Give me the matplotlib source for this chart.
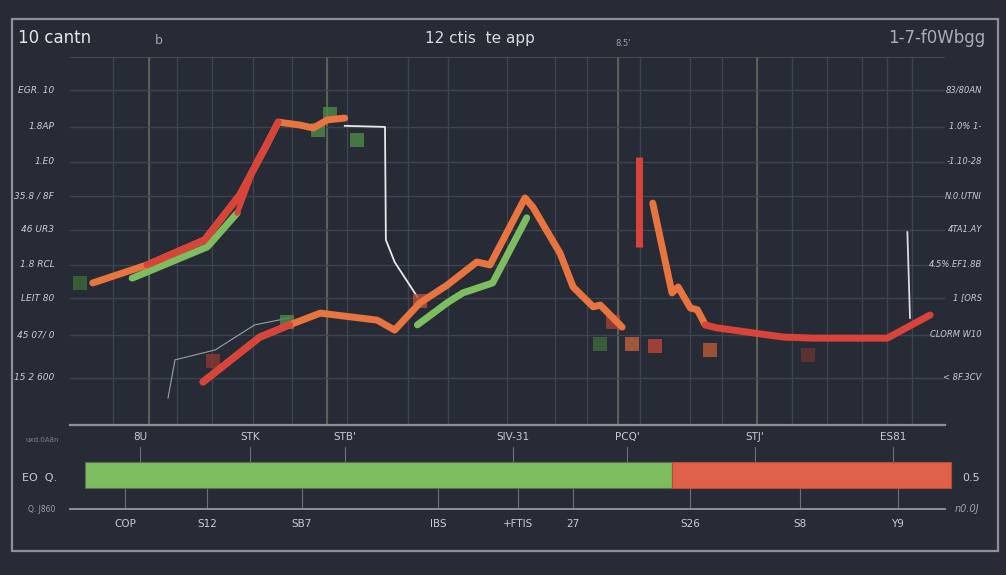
import matplotlib
matplotlib.use("Agg")
import matplotlib.pyplot as plt
from matplotlib.patches import Rectangle

W, H = 1006, 575
BG = "#262b36"
ORANGE = "#e8743f"
RED = "#d9443a"
GREEN = "#7dbd5f"
GRID = "#3d4350"
TXT = "#c9ccd2"

# ---------------- data (x: 0-100 time index, y: 0-100 value) ----------------
upper_x = [2.6, 8.8, 15.4, 19.4, 22.3, 23.8, 26.3, 27.8, 29.4, 31.4]
upper_y = [38.6, 43.5, 50.3, 62.5, 75.3, 82.3, 81.5, 80.7, 82.9, 83.4]
upper_red_x = [8.8, 15.4, 19.4, 22.3, 23.8]
upper_red_y = [43.5, 50.3, 62.5, 75.3, 82.3]
upper_red2_x = [19.1, 21.4, 23.8]
upper_red2_y = [57.6, 72.0, 82.3]
green1_x = [7.1, 15.7, 19.1]
green1_y = [39.9, 48.4, 57.6]

mid_x = [15.2, 21.7, 25.1, 28.6, 35.1, 37.1, 40.0, 43.1, 46.5, 48.0, 52.0, 52.9,
         56.0, 57.5, 59.8, 60.6, 63.1]
mid_y = [11.7, 23.9, 27.2, 30.4, 28.5, 25.8, 33.2, 38.0, 44.3, 43.5, 61.7, 59.2,
         46.7, 37.5, 32.1, 32.6, 26.6]
mid_red_x = [15.2, 21.7, 25.1]
mid_red_y = [11.7, 23.9, 27.2]
green2_x = [39.7, 43.1, 44.9, 48.3, 52.2]
green2_y = [27.2, 33.2, 35.9, 38.6, 56.3]

right_x = [66.6, 68.8, 69.5, 70.9, 71.7, 72.6]
right_y = [60.3, 35.9, 37.5, 31.8, 31.3, 27.2]
right_red_x = [72.6, 73.9, 81.5, 84.9, 93.4, 98.3]
right_red_y = [27.2, 26.4, 23.9, 23.6, 23.6, 29.9]

spike_x = [65.0, 65.0]
spike_y = [72.8, 48.4]

white1_x = [31.4, 36.0, 36.1, 37.1, 39.7]
white1_y = [81.3, 81.0, 50.3, 44.3, 34.8]
white2_x = [95.7, 96.0]
white2_y = [52.4, 29.1]
gray_x = [11.2, 12.0, 16.6, 21.1, 25.1]
gray_y = [7.3, 17.7, 20.4, 27.2, 29.1]

sq_x = [1.1, 16.3, 28.3, 32.8, 29.7, 24.8, 60.6, 64.2, 66.9, 73.1, 84.3, 40.0, 62.1]
sq_y = [38.6, 17.4, 80.2, 77.4, 84.5, 28.0, 22.0, 22.0, 21.5, 20.4, 19.0, 33.7, 28.0]
sq_c = ["#3f6b3c", "#8a3a33", "#4f8a48", "#4f8a48", "#4f8a48", "#4f8a48", "#3f6b3c",
        "#c0623a", "#c0453a", "#b85d38", "#6a3530", "#b5503a", "#a04235"]

grid_vx = [4.9, 9.0, 12.2, 16.2, 20.9, 25.4, 29.4, 31.7, 38.6, 43.2, 49.9, 55.4,
           59.1, 62.6, 65.1, 70.9, 74.5, 78.5, 82.5, 86.5, 90.5, 93.4, 96.2]
bright_vx = [9.0, 29.4, 62.6, 78.5]
grid_hy = [91.0, 81.0, 71.5, 62.2, 53.0, 43.5, 34.5, 24.5, 12.8]

left_labels = ["EGR. 10", "1.8AP", "1.E0", "35.8 / 8F", "46 UR3", "1.8 RCL",
               "LEIT 80", "45 07/ 0", "15 2 600"]
right_labels = ["83/80AN", "1.0% 1-", "-1.10-28", "N.0.UTNI", "4TA1.AY",
                "4.5%.EF1.8B", "1 [ORS", "CLORM W10", "< 8F.3CV"]

bar_start = 1.7
bar_values = [67.1, 31.9]
bar_colors = [GREEN, "#e0614a"]
top_tick_x = [8.0, 20.6, 31.4, 50.6, 63.7, 78.3, 94.1]
top_tick_labels = ["8U", "STK", "STB'", "SIV-31", "PCQ'", "STJ'", "ES81"]
bot_tick_x = [6.3, 15.7, 26.5, 42.1, 51.2, 57.5, 70.9, 83.4, 94.6]
bot_tick_labels = ["COP", "S12", "SB7", "IBS", "+FTIS", "27", "S26", "S8", "Y9"]

# ---------------- figure ----------------
fig = plt.figure(figsize=(W / 100, H / 100), dpi=100, facecolor=BG)


def fx(px):
    return px / W


def fy(py):
    return 1 - py / H


# outer frame
fig.patches.append(Rectangle((fx(12), fy(551)), fx(998) - fx(12), fy(19) - fy(551),
                             transform=fig.transFigure, fill=False,
                             edgecolor="#8c9099", lw=1.6))

# titles
fig.text(fx(18), fy(38), "10 cantn", color="#e4e6ea", fontsize=12, va="center",
         ha="left")
fig.text(fx(480), fy(38), "12 ctis  te app", color="#d9dbe0", fontsize=11,
         va="center", ha="center")
fig.text(fx(985), fy(38), "1-7-f0Wbgg", color="#a9adb5", fontsize=12, va="center",
         ha="right")
fig.text(fx(155), fy(40), "b", color="#9da1a9", fontsize=9, va="center")
fig.text(fx(615), fy(43), "8.5'", color="#9da1a9", fontsize=6, va="center")

# main axes
ax = fig.add_axes([fx(70), fy(425), fx(945) - fx(70), fy(57) - fy(425)])
ax.set_facecolor(BG)
ax.set_xlim(0, 100)
ax.set_ylim(0, 100)
for s in ["top", "left", "right"]:
    ax.spines[s].set_visible(False)
ax.spines["bottom"].set_color("#8c9099")
ax.spines["bottom"].set_linewidth(1.6)
ax.set_xticks([])
ax.set_yticks([])

for gx in grid_vx:
    ax.axvline(gx, color=GRID, lw=1.0, zorder=0)
for gx in bright_vx:
    ax.axvline(gx, color="#636a58", lw=1.2, zorder=0)
for gy in grid_hy:
    ax.axhline(gy, color=GRID, lw=1.0, zorder=0)
ax.axhline(100, color="#4a505c", lw=1.2, zorder=0)

# thin lines
ax.plot(gray_x, gray_y, color="#9aa0a8", lw=0.8, zorder=2)
ax.plot(white1_x, white1_y, color="#e8e8ea", lw=1.3, zorder=2)
ax.plot(white2_x, white2_y, color="#d8dadd", lw=1.3, zorder=2)

# squares
ax.scatter(sq_x, sq_y, marker="s", s=100, c=sq_c, alpha=0.8, zorder=2,
           linewidths=0)

kw = dict(lw=5, solid_capstyle="round", solid_joinstyle="round", zorder=4)
ax.plot(green1_x, green1_y, color=GREEN, **kw)
ax.plot(upper_x, upper_y, color=ORANGE, **kw)
ax.plot(upper_red_x, upper_red_y, color=RED, **kw)
ax.plot(upper_red2_x, upper_red2_y, color=RED, lw=4, solid_capstyle="round",
        zorder=4)
ax.plot(green2_x, green2_y, color=GREEN, **kw)
ax.plot(mid_x, mid_y, color=ORANGE, **kw)
ax.plot(mid_red_x, mid_red_y, color=RED, **kw)
ax.plot(right_x, right_y, color=ORANGE, **kw)
ax.plot(right_red_x, right_red_y, color=RED, **kw)
ax.plot(spike_x, spike_y, color=RED, lw=5, solid_capstyle="butt", zorder=4)

# y tick labels on both sides
for gy, lab in zip(grid_hy, left_labels):
    ax.text(-1.8, gy, lab, color=TXT, fontsize=6.5, ha="right", va="center",
            clip_on=False, style="italic")
for gy, lab in zip(grid_hy, right_labels):
    ax.text(104.2, gy, lab, color=TXT, fontsize=6, ha="right", va="center",
            clip_on=False, style="italic")

# lower panel
bx = fig.add_axes([fx(70), fy(509), fx(945) - fx(70), fy(425) - fy(509)])
bx.set_facecolor("none")
bx.set_xlim(0, 100)
bx.set_ylim(0, 1)
for s in ["top", "left", "right"]:
    bx.spines[s].set_visible(False)
bx.spines["bottom"].set_color("#8c9099")
bx.spines["bottom"].set_linewidth(1.4)
bx.set_yticks([])
bx.set_xticks(bot_tick_x)
bx.set_xticklabels(bot_tick_labels)
bx.tick_params(axis="x", direction="in", length=15, color="#6b707a", width=0.8,
               labelcolor=TXT, labelsize=7.5, pad=7)

left = bar_start
for v, c in zip(bar_values, bar_colors):
    bx.barh(0.405, v, left=left, height=0.31, color=c,
            edgecolor="#5f6b55" if c == GREEN else "#b84a3a", lw=0.8,
            clip_on=False, zorder=3)
    left += v

for tx, lab in zip(top_tick_x, top_tick_labels):
    bx.text(tx, 0.857, lab, color=TXT, fontsize=7.5, ha="center", va="center")
    bx.plot([tx, tx], [0.56, 0.74], color="#6b707a", lw=0.8)

fig.text(fx(22), fy(478), "EO  Q.", color=TXT, fontsize=8, va="center")
fig.text(fx(28), fy(509), "Q. J860", color="#9da1a9", fontsize=5.5, va="center")
fig.text(fx(25), fy(440), "uxd.0A8n", color="#7d828b", fontsize=5, va="center")
fig.text(fx(962), fy(478), "0.5", color=TXT, fontsize=8, va="center")
fig.text(fx(955), fy(509), "n0.0J", color="#9da1a9", fontsize=7, va="center",
         style="italic")

fig.savefig("out.png", dpi=100, facecolor=BG)
